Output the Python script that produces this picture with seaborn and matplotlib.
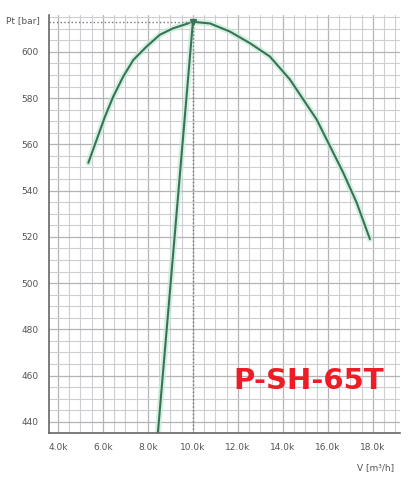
import matplotlib
matplotlib.use("Agg")
import matplotlib.pyplot as plt
import seaborn as sns
import pandas as pd
import numpy as np

# Pump curve (flow in m3/h, pressure)
flow = [5350, 5720, 6090, 6460, 6900, 7350, 7940, 8530, 9120, 9720, 10000,
        10760, 11640, 12530, 13420, 14310, 14900, 15500, 16090, 16680, 17280, 17870]
pressure = [552, 562, 572, 580.7, 589.3, 596.5, 602.3, 607.4, 610.2, 612.1, 613,
            612.3, 608.8, 603.8, 598, 588.1, 579.5, 570.8, 559.3, 547.8, 534.8, 519]

# Steep system line
sys_flow = [8440, 10000]
sys_pressure = [435, 613]

# Operating point
op_flow = 10000
op_pressure = 613

x_ticks = [4000, 6000, 8000, 10000, 12000, 14000, 16000, 18000]
x_labels = ["4.0k", "6.0k", "8.0k", "10.0k", "12.0k", "14.0k", "16.0k", "18.0k"]
y_ticks = [440, 460, 480, 500, 520, 540, 560, 580, 600]

curve = pd.DataFrame({"V": flow, "P": pressure})
system = pd.DataFrame({"V": sys_flow, "P": sys_pressure})

sns.set_style("white")
fig = plt.figure(figsize=(4.08, 4.8), dpi=100)
ax = fig.add_axes([0.12, 0.098, 0.86, 0.871])

xmin, xmax = 3600, 19200
ymin, ymax = 435.2, 616

# graph paper grid
ax.set_xticks(np.arange(4000, 19500, 500), minor=True)
ax.set_yticks(np.arange(440, 616, 5), minor=True)
ax.grid(True, which="minor", color="#cdcdd2", linewidth=0.8)
ax.grid(True, which="major", color="#b3b3b8", linewidth=0.9)
ax.set_axisbelow(True)

green = "#3a7257"
glow = "#c4ecd6"
for df in (curve, system):
    sns.lineplot(data=df, x="V", y="P", ax=ax, color=glow, linewidth=4.5, alpha=0.7, sort=False)
    sns.lineplot(data=df, x="V", y="P", ax=ax, color=green, linewidth=1.5, sort=False)

ax.plot([xmin, op_flow], [op_pressure, op_pressure], color="#777777", linestyle=":", linewidth=1)
ax.plot([op_flow, op_flow], [ymin, op_pressure], color="#777777", linestyle=":", linewidth=1)
ax.plot([op_flow], [op_pressure], marker="v", color=green, markersize=4.5)

ax.set_xlim(xmin, xmax)
ax.set_ylim(ymin, ymax)
ax.set_xticks(x_ticks)
ax.set_xticklabels(x_labels)
ax.set_yticks(y_ticks)
ax.tick_params(axis="both", which="major", labelsize=6.5, colors="#555555", length=4, direction="out")
ax.tick_params(axis="both", which="minor", length=0)
ax.set_xlabel("")
ax.set_ylabel("")

for s in ("top", "right"):
    ax.spines[s].set_visible(False)
for s in ("left", "bottom"):
    ax.spines[s].set_color("#666666")
    ax.spines[s].set_linewidth(1.2)

fig.text(0.015, 0.957, "Pt [bar]", fontsize=6.5, color="#555555", va="center")
fig.text(0.965, 0.026, "V [m³/h]", fontsize=6.5, color="#555555", ha="right", va="center")
ax.text(0.74, 0.125, "P-SH-65T", transform=ax.transAxes, fontsize=21, fontweight="bold",
        color="#ee1c24", ha="center", va="center")

fig.savefig("out.png", dpi=100)
